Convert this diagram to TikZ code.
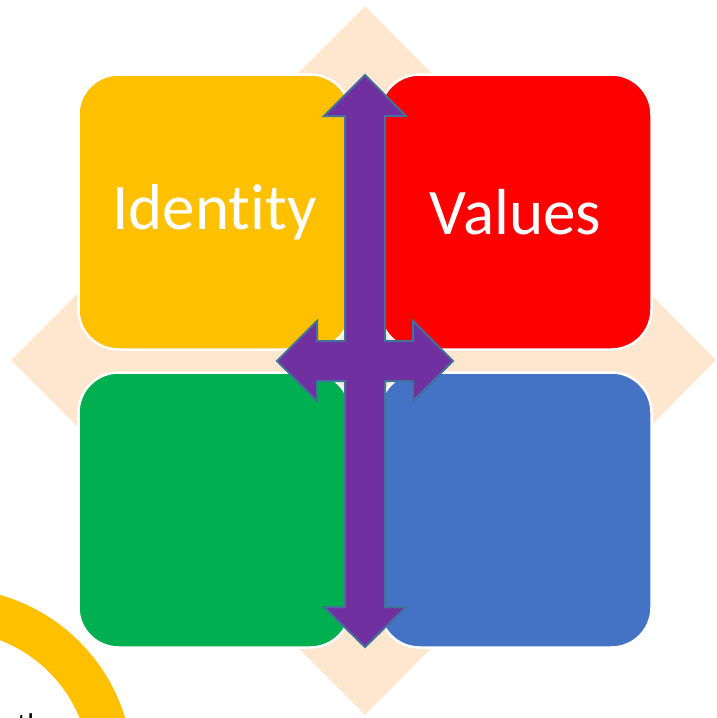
\documentclass[tikz,border=0pt]{standalone}
\usepackage{fontspec}
\setmainfont{Carlito}[Ligatures=NoCommon]
\usepackage{tikz}
\usetikzlibrary{calc}
\definecolor{peach}{HTML}{FEE7CE}
\definecolor{gold}{HTML}{FFC000}
\definecolor{redbox}{HTML}{FF0000}
\definecolor{greenbox}{HTML}{00B050}
\definecolor{bluebox}{HTML}{4472C4}
\definecolor{purplearrow}{HTML}{7030A0}
\definecolor{arrowedge}{HTML}{41719C}
\tikzstyle{quadrant} = [rectangle, rounded corners=40pt, minimum width=272pt, minimum height=275pt, draw=white, line width=2.5pt, text=white, font=\fontsize{65}{65}\selectfont, inner sep=0pt]
\tikzstyle{crossarrow} = [fill=purplearrow, draw=arrowedge, line width=2pt, line join=miter]

\begin{document}
\begin{tikzpicture}[x=1pt, y=-1pt, node distance=302pt]

    \clip (0,0) rectangle (716,718);
    
    % background diamond
    \fill[peach] (365,6) -- (716,360) -- (365,715) -- (11,360) -- cycle;
    
    \node (identity) [quadrant, fill=gold] at (214.5,212) {Identity};
    
    \node (values) [quadrant, fill=redbox, right of=identity, xshift=-1pt] {Values};
    
    \node (green_quadrant) [quadrant, fill=greenbox, below of=identity, yshift=4pt] {};
    
    \node (blue_quadrant) [quadrant, fill=bluebox, right of=green_quadrant, xshift=-1pt] {};
    
    % four way arrow
    \draw[crossarrow] (365,75) -- (406,116) -- (385,116) -- (385,341) -- (413,341) -- (413,321) -- (453,361) -- (413,401) -- (413,381) -- (385,381) -- (385,607) -- (406,607) -- (365,647) -- (324,607) -- (345,607) -- (345,381) -- (317,381) -- (317,401) -- (277,361) -- (317,321) -- (317,341) -- (345,341) -- (345,116) -- (324,116) -- cycle;
    
    % ring in the corner
    \fill[gold, even odd rule] (-50,771) circle (183) (-50,771) circle (140);
    
    \node (corner_text) [anchor=north west, inner sep=0pt, font=\fontsize{30}{30}\selectfont] at (17,713) {th};

\end{tikzpicture}
\end{document}
